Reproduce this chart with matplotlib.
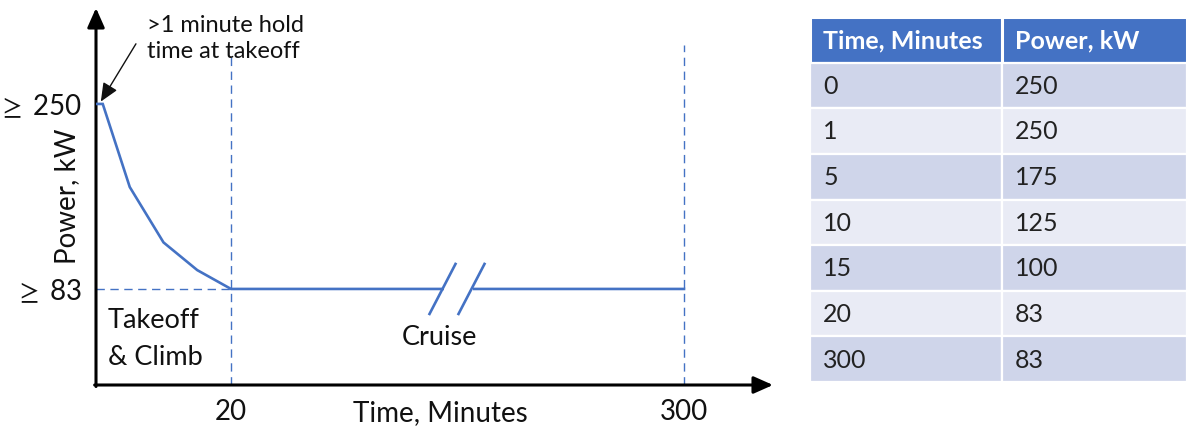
import numpy as np
import matplotlib
matplotlib.use("Agg")
import matplotlib.pyplot as plt
from matplotlib.lines import Line2D
from matplotlib.patches import Rectangle
from matplotlib.transforms import IdentityTransform

plt.rcParams['font.family'] = ['Lato', 'DejaVu Sans']
plt.rcParams['mathtext.fontset'] = 'stix'

# Power profile (time in minutes, power in kW)
time_min = [0, 1, 5, 10, 15, 20, 300]
power_kw = [250, 250, 175, 125, 100, 83, 83]

# Axis ticks
x_ticks = [20, 300]
x_tick_labels = ["20", "300"]
y_ticks = [83, 250]
y_tick_labels = [r"$\geq$ 83", r"$\geq$ 250"]

# Table content
table_header = ["Time, Minutes", "Power, kW"]

BLUE = "#4472C4"
W, H, DPI = 1187, 434, 100

fig = plt.figure(figsize=(W / DPI, H / DPI), dpi=DPI)

# Time axis: first 20 minutes at full scale, cruise segment compressed
K = 0.2397


def fwd(t):
    t = np.asarray(t, dtype=float)
    return np.where(t <= 20, t, 20 + (t - 20) * K)


def inv(u):
    u = np.asarray(u, dtype=float)
    return np.where(u <= 20, u, 20 + (u - 20) / K)


x0, x1 = 96, 773
y0, y1 = 385, 8
ax = fig.add_axes([x0 / W, (H - y0) / H, (x1 - x0) / W, (y0 - y1) / H])
ax.set_xscale('function', functions=(fwd, inv))
ax.set_xlim(0, float(inv(100.3)))
ax.set_ylim(-3.7, 336.6)
for s in ax.spines.values():
    s.set_visible(False)
ax.patch.set_alpha(0)

# Axis arrows
arrow_kw = dict(arrowstyle='-|>,head_length=0.9,head_width=0.4', lw=2.2,
                color='black', shrinkA=0, shrinkB=0, mutation_scale=13)
ax.annotate("", xy=(1, 0), xytext=(-0.002, 0), xycoords='axes fraction',
            arrowprops=arrow_kw)
ax.annotate("", xy=(0, 1), xytext=(0, -0.004), xycoords='axes fraction',
            arrowprops=arrow_kw)

# Ticks
ax.set_xticks(x_ticks)
ax.set_xticklabels(x_tick_labels, fontsize=20, color='#111111')
ax.set_yticks(y_ticks)
ax.set_yticklabels(y_tick_labels, fontsize=20, color='#111111')
ax.tick_params(axis='x', length=0, pad=10)
ax.tick_params(axis='y', length=0, pad=10)
ax.minorticks_off()

ax.set_xlabel("Time, Minutes", fontsize=20, color='#111111')
ax.xaxis.set_label_coords(0.508, -0.04)
ax.set_ylabel("Power, kW", fontsize=20, color='#111111')
ax.yaxis.set_label_coords(-0.024, 0.501)

# Reference guides
dash = dict(color=BLUE, lw=1.0, linestyle=(0, (6, 4)))
ax.axvline(20, ymin=0, ymax=0.87, **dash)
ax.axvline(300, ymin=0, ymax=0.902, **dash)
ax.hlines(83, 0, 20, **dash)

# Power profile
ax.plot(time_min, power_kw, color=BLUE, lw=1.9, solid_joinstyle='miter',
        zorder=3)

# Axis break on the cruise segment
fig.canvas.draw()
bx, by = ax.transData.transform((160, 83))
gap = Rectangle((bx - 14, by - 5), 29, 10, transform=IdentityTransform(),
                facecolor='white', edgecolor='none', zorder=4)
fig.patches.append(gap)
for off in (-15, 14):
    fig.lines.append(Line2D([bx + off - 13, bx + off + 13],
                            [by - 25, by + 25], color=BLUE, lw=1.9,
                            transform=IdentityTransform(), zorder=5))

# Annotations
ax.text(0.076, 0.982, ">1 minute hold\ntime at takeoff", transform=ax.transAxes,
        fontsize=17, va='top', ha='left', color='#111111', linespacing=1.3)
ax.annotate("", xy=(0.5, 250), xycoords='data',
            xytext=(0.059, 0.905), textcoords='axes fraction',
            arrowprops=dict(arrowstyle='-|>,head_length=0.8,head_width=0.35',
                            lw=1.0, color='#111111', shrinkA=0, shrinkB=2,
                            mutation_scale=14))
ax.text(0.017, 0.122, "Takeoff\n& Climb", transform=ax.transAxes, fontsize=19.5,
        va='center', ha='left', color='#111111', linespacing=1.6)
ax.text(0.508, 0.125, "Cruise", transform=ax.transAxes, fontsize=19.5,
        va='center', ha='center', color='#111111')

# Data table
tx0, tx1 = 810, 1187
ty0, ty1 = 17, 382
tax = fig.add_axes([tx0 / W, (H - ty1) / H, (tx1 - tx0) / W, (ty1 - ty0) / H])
tax.set_axis_off()
n_rows = len(time_min) + 1
tax.set_xlim(0, 1)
tax.set_ylim(n_rows, 0)
split = 0.509
rows = [table_header] + [[str(t), str(p)] for t, p in zip(time_min, power_kw)]
for r, row in enumerate(rows):
    if r == 0:
        face = BLUE
    elif r % 2 == 1:
        face = "#CFD5EA"
    else:
        face = "#E9EBF5"
    for c, txt in enumerate(row):
        cx = 0 if c == 0 else split
        cw = split if c == 0 else 1 - split
        tax.add_patch(Rectangle((cx, r), cw, 1, facecolor=face,
                                edgecolor='white', lw=1.6 if r else 2.2))
        tax.text(cx + 0.035, r + 0.52, txt, fontsize=18,
                 fontweight='bold' if r == 0 else 'normal',
                 color='white' if r == 0 else '#222222',
                 va='center', ha='left')

fig.savefig("out.png", dpi=DPI)
